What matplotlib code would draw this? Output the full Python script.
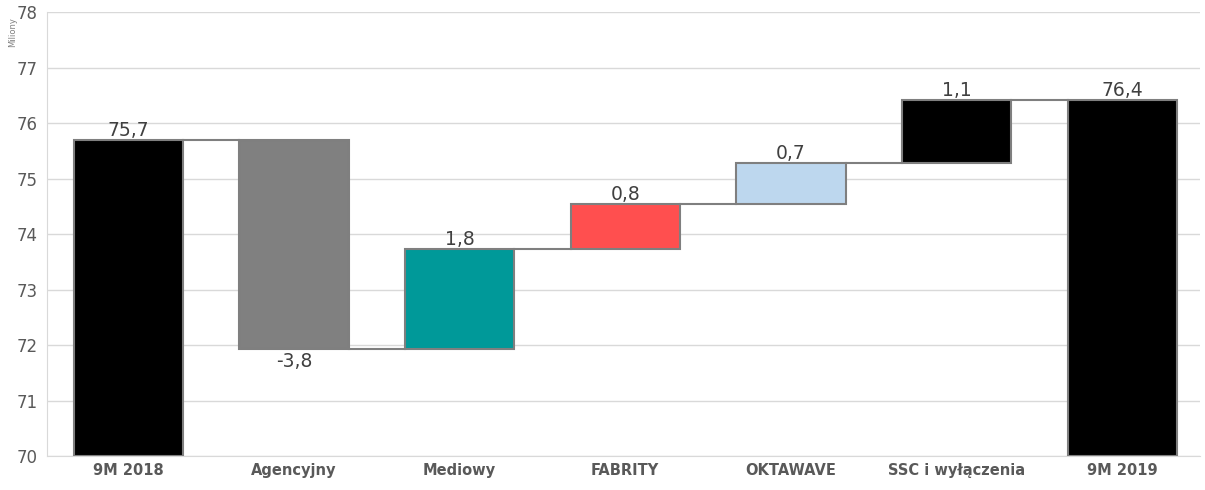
import matplotlib
matplotlib.use("Agg")
import matplotlib.pyplot as plt
import numpy as np

categories = ["9M 2018", "Agencyjny", "Mediowy", "FABRITY", "OKTAWAVE", "SSC i wyłączenia", "9M 2019"]
start_total = 75.70
deltas = [-3.77, 1.80, 0.81, 0.74, 1.13]
end_total = 76.41
labels = ["75,7", "-3,8", "1,8", "0,8", "0,7", "1,1", "76,4"]
colors = ["#000000", "#808080", "#009999", "#ff4f4f", "#bdd7ee", "#000000", "#000000"]

base_y = 70
bottoms, heights = [], []
bottoms.append(base_y); heights.append(start_total - base_y)
level = start_total
for d in deltas:
    bottoms.append(min(level, level + d)); heights.append(abs(d))
    level += d
bottoms.append(base_y); heights.append(end_total - base_y)

fig = plt.figure(figsize=(12.05, 4.9), dpi=100)
ax = fig.add_axes([0.039, 0.069, 0.957, 0.9065])
x = np.arange(len(categories))
w = 0.66
ax.bar(x, heights, bottom=bottoms, width=w, color=colors, edgecolor="#7f7f7f", linewidth=1.5, zorder=3)

# connectors
levels = [start_total]
level = start_total
for d in deltas:
    level += d
    levels.append(level)
levels.append(end_total)
for i in range(len(categories) - 1):
    ax.plot([x[i] + w / 2, x[i + 1] - w / 2], [levels[i], levels[i]], color="#7f7f7f", lw=1.5, zorder=2)

# labels
for i in range(len(categories)):
    top = bottoms[i] + heights[i]
    if i in range(1, 6) and deltas[i - 1] < 0:
        ax.text(x[i], bottoms[i] - 0.06, labels[i], ha="center", va="top", fontsize=13.5, color="#404040")
    else:
        ax.text(x[i], top + 0.0, labels[i], ha="center", va="bottom", fontsize=13.5, color="#404040")

ax.set_ylim(70, 78)
ax.set_xlim(-0.49, 6.47)
ax.set_yticks(range(70, 79))
ax.set_xticks(x)
ax.set_xticklabels(categories, fontsize=10.5, fontweight="bold", color="#595959")
ax.tick_params(axis="y", labelsize=12, labelcolor="#595959", length=0, pad=7)
ax.tick_params(axis="x", length=0, pad=5)
ax.grid(axis="y", color="#d9d9d9", lw=1, zorder=0)
for s in ["top", "right"]:
    ax.spines[s].set_visible(False)
ax.spines["left"].set_color("#d9d9d9")
ax.spines["bottom"].set_color("#d9d9d9")
fig.text(0.007, 0.935, "Miliony", rotation=90, fontsize=6, color="#808080", ha="left", va="center")
fig.savefig("out.png", dpi=100)
